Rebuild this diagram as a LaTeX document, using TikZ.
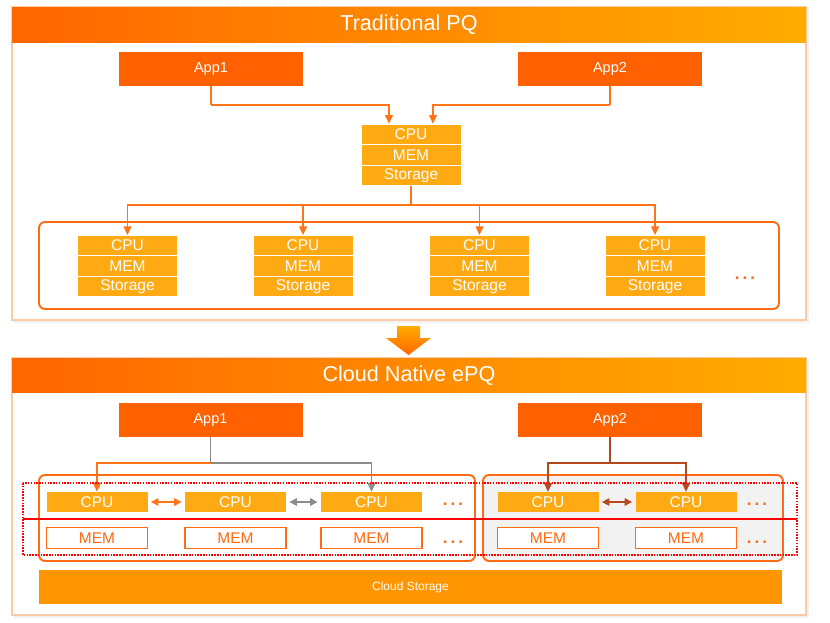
\documentclass[tikz,border=0pt]{standalone}
\usepackage{fontspec}
\setmainfont{Liberation Sans}
\usetikzlibrary{arrows.meta,calc}
\definecolor{appor}{HTML}{FF6000}
\definecolor{amber}{HTML}{FFAA12}
\definecolor{cloudor}{HTML}{FF9500}
\definecolor{lineor}{HTML}{FF7417}
\definecolor{grpor}{HTML}{FF6A13}
\definecolor{panelbd}{HTML}{F9CBA6}
\definecolor{greyar}{HTML}{8C8C8C}
\definecolor{brownar}{HTML}{B5491E}
\definecolor{lightgrey}{HTML}{F2F2F2}
\definecolor{titleL}{HTML}{FF6600}
\definecolor{titleR}{HTML}{FFAC00}
\tikzset{
  app/.style={fill=appor, text=white, minimum width=184pt, minimum height=34pt, inner sep=0pt, font=\fontsize{14.5}{17}\selectfont},
  cell/.style={fill=amber, draw=white, line width=0.8pt, text=white, minimum width=100pt, minimum height=20.5pt, inner sep=0pt, font=\fontsize{15.5}{18}\selectfont},
  memcell/.style={fill=white, draw=grpor, line width=1.3pt, text=grpor, minimum width=101pt, minimum height=21pt, inner sep=0pt, font=\fontsize{15.5}{18}\selectfont},
  titletext/.style={text=white, inner sep=0pt, font=\fontsize{21.6}{26}\selectfont},
  grpbox/.style={draw=grpor, line width=1.9pt, rounded corners=6pt, inner sep=0pt},
  dotstext/.style={text=grpor, inner sep=0pt, anchor=base, font=\bfseries\fontsize{17}{20}\selectfont},
  tip/.style={-{Triangle[length=8.5pt,width=8pt]}},
  dtip/.style={{Triangle[length=7.5pt,width=7.5pt]}-{Triangle[length=7.5pt,width=7.5pt]}},
  oline/.style={draw=lineor, line width=1.3pt},
  oarr/.style={oline, tip},
  garr/.style={draw=greyar, line width=1.3pt, tip},
  barr/.style={draw=brownar, line width=1.3pt, tip},
  panel/.style={draw=panelbd, line width=1.2pt, fill=white},
}
\begin{document}
\begin{tikzpicture}[x=1pt,y=-1pt]
\useasboundingbox (0,0) rectangle (830,622);
\fill[white] (0,0) rectangle (830,622);
% ---------------- top panel ----------------
\fill[black!5] (14,9) rectangle (809,323);
\draw[panel] (12,7) rectangle (806,320);
\shade[left color=titleL, right color=titleR] (12,7) rectangle (806,42);
\node[titletext] (t1) at (409,24.5) {Traditional PQ};

\node[app] (a1) at (211,69) {App1};
\node[app] (a2) at (610,69) {App2};

\node[cell] (cT) at (411,134.25) {CPU};
\node[cell] (mT) at (411,154.75) {MEM};
\node[cell] (sT) at (411,175.25) {Storage};

\coordinate (hy1) at (0,105);
\coordinate (t1in) at ($(cT.north)+(-22,0)$);
\coordinate (t2in) at ($(cT.north)+(22,0)$);
\draw[oline] (a1.south) -- (a1.south |- hy1);
\draw[oarr] (a1.south |- hy1) -| (t1in);
\draw[oline] (a2.south) -- (a2.south |- hy1);
\draw[oarr] (a2.south |- hy1) -| (t2in);

\node[grpbox, minimum width=740pt, minimum height=87pt] (g0) at (409,265.5) {};
\foreach \x [count=\i] in {127.5,303,479.5,655} {
  \node[cell] (c\i) at (\x,245.5) {CPU};
  \node[cell] (m\i) at (\x,266) {MEM};
  \node[cell] (s\i) at (\x,286.5) {Storage};
}
\coordinate (hy2) at (0,205);
\draw[oline] (sT.south) -- (sT.south |- hy2);
\foreach \i in {1,...,4} {
  \draw[oarr] (sT.south |- hy2) -| (c\i.north);
}
\node[dotstext] (d0) at (745,279) {.\hspace{3pt}.\hspace{3pt}.};

% ---------------- big arrow ----------------
\shade[top color=titleR, bottom color=titleL]
  (397,326) -- (420,326) -- (420,338) -- (431,338) -- (408.5,355) -- (386,338) -- (397,338) -- cycle;

% ---------------- bottom panel ----------------
\fill[black!5] (14,360) rectangle (809,618);
\draw[panel] (12,358) rectangle (806,615);
\shade[left color=titleL, right color=titleR] (12,358) rectangle (806,392);
\node[titletext] (t2) at (409,375.5) {Cloud Native ePQ};

\node[app] (b1) at (210.5,420) {App1};
\node[app] (b2) at (610,420) {App2};

\node[grpbox, minimum width=436pt, minimum height=86pt] (gl) at (257,518) {};
\node[grpbox, fill=lightgrey, minimum width=300pt, minimum height=86pt] (gr) at (633,518) {};

\foreach \x [count=\i] in {97,235.5,371.5,548,686} {
  \node[cell, draw=none, minimum width=101pt, minimum height=20pt] (p\i) at (\x,502) {CPU};
  \node[memcell] (q\i) at (\x,538) {MEM};
}

\coordinate (hy3) at (0,463);
\draw[draw=greyar, line width=1.3pt] (b1.south) -- (b1.south |- hy3);
\draw[oarr] (b1.south |- hy3) -| (p1.north);
\draw[garr] (b1.south |- hy3) -| (p3.north);
\draw[draw=brownar, line width=1.3pt] (b2.south) -- (b2.south |- hy3);
\draw[barr] (b2.south |- hy3) -| (p4.north);
\draw[barr] (b2.south |- hy3) -| (p5.north);

\draw[draw=lineor, line width=1.5pt, dtip, shorten <=3pt, shorten >=3pt] (p1.east) -- (p2.west);
\draw[draw=greyar, line width=1.5pt, dtip, shorten <=3pt, shorten >=3pt] (p2.east) -- (p3.west);
\draw[draw=brownar, line width=1.5pt, dtip, shorten <=3pt, shorten >=3pt] (p4.east) -- (p5.west);

\node[dotstext] (d1) at (453,505) {.\hspace{3pt}.\hspace{3pt}.};
\node[dotstext] (d2) at (453,543) {.\hspace{3pt}.\hspace{3pt}.};
\node[dotstext] (d3) at (757,505) {.\hspace{3pt}.\hspace{3pt}.};
\node[dotstext] (d4) at (757,543) {.\hspace{3pt}.\hspace{3pt}.};

\draw[red, line width=1.7pt, dash pattern=on 1.5pt off 1.3pt] (23,483) rectangle (797,555);
\draw[red, line width=1.4pt] (23,519) -- (797,519);

\node[fill=cloudor, text=white, minimum width=743pt, minimum height=34pt, inner sep=0pt, font=\fontsize{12}{14}\selectfont] (cs) at (410.5,587) {Cloud Storage};
\end{tikzpicture}
\end{document}
